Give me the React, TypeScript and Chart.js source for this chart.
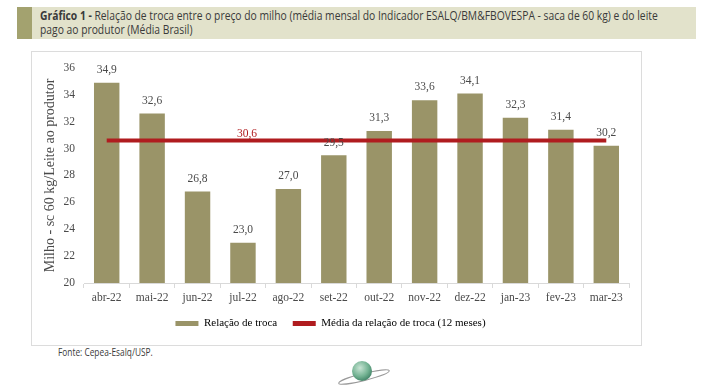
import React, { useEffect, useLayoutEffect, useRef } from "react";
import { Chart, registerables } from "chart.js";

Chart.register(...registerables);

const categories = ["abr-22", "mai-22", "jun-22", "jul-22", "ago-22", "set-22", "out-22", "nov-22", "dez-22", "jan-23", "fev-23", "mar-23"];
const relacaoTroca = [34.9, 32.6, 26.8, 23.0, 27.0, 29.5, 31.3, 33.6, 34.1, 32.3, 31.4, 30.2];
const mediaValue = 30.6;
const mediaSeries = categories.map(() => mediaValue);
const yMin = 20;
const yMax = 36;
const yStep = 2;

const BAR_COLOR = "#9a9468";
const RED = "#b01c1f";
const SERIF = "'Liberation Serif', 'Times New Roman', serif";
const SANS = "'Open Sans', 'Noto Sans', sans-serif";
const TEXT = "#4a4a4a";
const fmt = (v: number) => v.toFixed(1).replace(".", ",");

const labelPlugin = {
  id: "valueLabels",
  afterDatasetsDraw(chart: any) {
    const ctx = chart.ctx;
    ctx.save();
    ctx.font = `11.5px ${SERIF}`;
    ctx.textAlign = "center";
    ctx.textBaseline = "bottom";
    ctx.fillStyle = TEXT;
    const bars = chart.getDatasetMeta(0).data;
    bars.forEach((el: any, i: number) => {
      ctx.fillText(fmt(relacaoTroca[i]), el.x, el.y - 7);
    });
    const pts = chart.getDatasetMeta(1).data;
    const p = pts[3];
    ctx.fillStyle = RED;
    ctx.fillText(fmt(mediaValue), p.x + 4, p.y - 1);
    ctx.restore();
  },
};

function FitText({ width, style, children }: { width: number; style: any; children: any }) {
  const r = useRef<HTMLDivElement | null>(null);
  useLayoutEffect(() => {
    const el = r.current;
    if (!el) return;
    el.style.transform = "none";
    const w = el.scrollWidth;
    if (w > 0) el.style.transform = `scaleX(${width / w})`;
  }, [width]);
  return (
    <div ref={r} style={{ ...style, position: "absolute", whiteSpace: "nowrap", transformOrigin: "0 0", display: "inline-block" }}>
      {children}
    </div>
  );
}

export default function App() {
  const ref = useRef<HTMLCanvasElement | null>(null);
  useEffect(() => {
    if (!ref.current) return;
    const chart = new Chart(ref.current, {
      type: "bar",
      data: {
        labels: categories,
        datasets: [
          {
            type: "bar",
            label: "Relação de troca",
            data: relacaoTroca,
            backgroundColor: BAR_COLOR,
            barPercentage: 0.56,
            categoryPercentage: 1,
            order: 2,
          },
          {
            type: "line",
            label: "Média da relação de troca (12 meses)",
            data: mediaSeries,
            borderColor: RED,
            backgroundColor: RED,
            borderWidth: 4,
            pointRadius: 0,
            order: 1,
          },
        ] as any,
      },
      options: {
        animation: false,
        responsive: false,
        layout: { padding: { top: 14, right: 12, bottom: 6, left: 0 } },
        plugins: {
          tooltip: { enabled: false },
          legend: {
            position: "bottom",
            labels: {
              boxWidth: 23,
              boxHeight: 5,
              padding: 10,
              color: TEXT,
              font: { family: SERIF, size: 11 },
              generateLabels: () => [
                { text: "Relação de troca\u2002", fillStyle: BAR_COLOR, strokeStyle: BAR_COLOR, lineWidth: 0, datasetIndex: 0, hidden: false },
                { text: "Média da relação de troca (12 meses)", fillStyle: RED, strokeStyle: RED, lineWidth: 0, datasetIndex: 1, hidden: false },
              ] as any,
            },
          },
        },
        scales: {
          x: {
            grid: { display: true, drawOnChartArea: false, tickLength: 5, color: "#d9d9d9", offset: true },
            border: { display: true, color: "#d9d9d9" },
            ticks: { color: TEXT, font: { family: SERIF, size: 11.5 }, padding: 3, maxRotation: 0 },
            afterFit: (s: any) => { s.height = 25; },
          },
          y: {
            min: yMin,
            max: yMax,
            grid: { display: false, drawTicks: false },
            border: { display: false },
            ticks: { stepSize: yStep, color: TEXT, font: { family: SERIF, size: 11.5 }, padding: 9 },
            title: {
              display: true,
              text: "Milho - sc 60 kg/Leite ao produtor",
              color: TEXT,
              font: { family: SERIF, size: 14 },
              padding: { top: 10, bottom: 0 },
            },
            afterFit: (s: any) => { s.width = 52; },
          },
        },
      },
      plugins: [labelPlugin],
    });
    return () => chart.destroy();
  }, []);

  return (
    <div style={{ position: "fixed", left: 0, top: 0, width: 702, height: 385, background: "#fff", overflow: "hidden" }}>
      <div style={{ position: "absolute", left: 17, top: 7, width: 679, height: 32, background: "#e2e2cb" }} />
      <div style={{ position: "absolute", left: 17, top: 7, width: 15, height: 32, background: "#a3a26f" }} />
      <FitText width={618} style={{ left: 40, top: 9, fontFamily: SANS, fontSize: 12.5, lineHeight: "14px", color: "#3a3a3a" }}>
        <b>Gráfico 1 -</b> Relação de troca entre o preço do milho (média mensal do Indicador ESALQ/BM&amp;FBOVESPA - saca de 60 kg) e do leite
        <br />
        pago ao produtor (Média Brasil)
      </FitText>
      <div style={{ position: "absolute", left: 31, top: 51, width: 609, height: 293, border: "1px solid #dcdcdc", background: "#fff" }}>
        <canvas ref={ref} width={609} height={293} style={{ display: "block" }} />
      </div>
      <FitText width={95} style={{ left: 58, top: 345, fontFamily: SANS, fontSize: 10, color: "#3a3a3a" }}>
        Fonte: Cepea-Esalq/USP.
      </FitText>
      <svg style={{ position: "absolute", left: 336, top: 355 }} width={60} height={30} viewBox="0 0 60 30">
        <defs>
          <radialGradient id="g" cx="0.4" cy="0.35" r="0.7">
            <stop offset="0" stopColor="#c8e4d4" />
            <stop offset="0.6" stopColor="#74b393" />
            <stop offset="1" stopColor="#3d7f63" />
          </radialGradient>
        </defs>
        <ellipse cx="28" cy="22" rx="26" ry="3.5" fill="none" stroke="#9a9a9a" strokeWidth="1" transform="rotate(-14 28 22)" />
        <circle cx="26" cy="16" r="10" fill="url(#g)" />
      </svg>
    </div>
  );
}
